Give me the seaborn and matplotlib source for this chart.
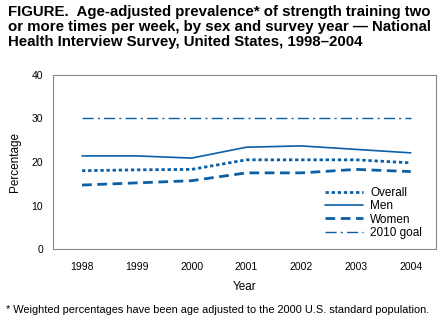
import matplotlib
matplotlib.use("Agg")
import matplotlib.pyplot as plt
import seaborn as sns
import pandas as pd

years = [1998, 1999, 2000, 2001, 2002, 2003, 2004]
overall = [18.0, 18.2, 18.3, 20.5, 20.5, 20.5, 19.8]
men = [21.4, 21.4, 20.9, 23.4, 23.7, 22.9, 22.1]
women = [14.7, 15.2, 15.7, 17.5, 17.5, 18.3, 17.8]
goal = [30, 30, 30, 30, 30, 30, 30]
series_names = ["Overall", "Men", "Women", "2010 goal"]

sns.set_style("white")
plt.rcParams['font.family'] = ['Liberation Sans', 'DejaVu Sans']
plt.rcParams['text.color'] = 'black'
plt.rcParams['axes.labelcolor'] = 'black'
plt.rcParams['xtick.color'] = 'black'
plt.rcParams['ytick.color'] = 'black'

fig = plt.figure(figsize=(4.43, 3.25), dpi=100)
ax = fig.add_axes([53/443, 1-249/325, (436-53)/443, (249-75)/325])

blue = "#0b5fa5"
styles = {
    "Overall": dict(linestyle=(0, (1.2, 1.0)), linewidth=2.0),
    "Men": dict(linestyle="-", linewidth=1.2),
    "Women": dict(linestyle=(0, (3.5, 2.0)), linewidth=2.0),
    "2010 goal": dict(linestyle=(0, (8, 3, 1.5, 3)), linewidth=1.0),
}
for name, vals in zip(series_names, [overall, men, women, goal]):
    df = pd.DataFrame({"Year": years, "Value": vals})
    sns.lineplot(data=df, x="Year", y="Value", ax=ax, color=blue,
                 label=name, **styles[name])

ax.set_xlim(1997.47, 2004.46)
ax.set_ylim(0, 40)
ax.set_xticks(years)
ax.set_xticklabels([str(y) for y in years])
ax.set_yticks([0, 10, 20, 30, 40])
ax.tick_params(axis='both', which='both', direction='out', length=4, width=0.8,
               color='#555555', labelsize=7.5, pad=5)
ax.tick_params(axis='y', pad=3)
for s in ax.spines.values():
    s.set_color('#888888')
    s.set_linewidth(0.8)
ax.set_xlabel("Year", fontsize=8.5, labelpad=7)
ax.set_ylabel("Percentage", fontsize=8.5, labelpad=8)

leg = ax.legend(loc='lower right', bbox_to_anchor=(0.985, 0.01), frameon=False,
                fontsize=8.5, handlelength=3.2, labelspacing=0.12,
                handletextpad=0.6, borderpad=0.2)

fig.text(8/443, 1-5/325,
         "FIGURE.  Age-adjusted prevalence* of strength training two\n"
         "or more times per week, by sex and survey year \u2014 National\n"
         "Health Interview Survey, United States, 1998\u20132004",
         ha='left', va='top', fontsize=10.8, fontweight='bold', linespacing=1.1)
fig.text(6/443, 1-310/325,
         "* Weighted percentages have been age adjusted to the 2000 U.S. standard population.",
         ha='left', va='center', fontsize=7.95)

fig.savefig("out.png", dpi=100)
